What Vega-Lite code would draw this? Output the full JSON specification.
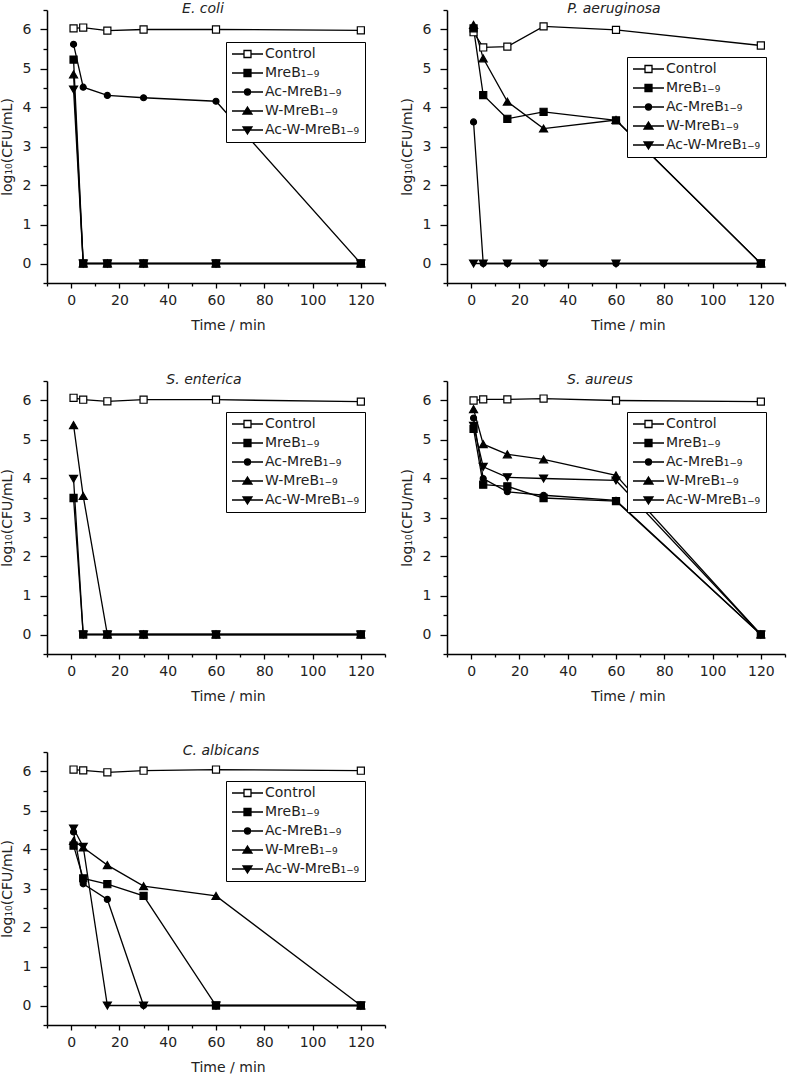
{
  "$schema": "https://vega.github.io/schema/vega-lite/v6.json",
  "padding": {"left": 0, "top": 2, "right": 2, "bottom": 0},
  "config": {
    "font": "DejaVu Sans",
    "view": {"stroke": null},
    "axis": {"domainColor": "black", "domainWidth": 1.5, "tickColor": "black", "tickWidth": 1.3, "labelFontSize": 14, "labelColor": "#222", "titleFontSize": 14, "titleFontWeight": "normal", "titleColor": "#222", "grid": false},
    "title": {"fontSize": 14, "fontStyle": "italic", "fontWeight": "normal", "color": "#222", "offset": -13},
    "legend": {"padding": 5, "strokeColor": "black", "fillColor": "white", "labelFontSize": 14, "labelColor": "#222", "labelOffset": 20, "rowPadding": 5, "symbolSize": 4, "symbolStrokeColor": "black", "symbolStrokeWidth": 1.3, "symbolOpacity": 1}
  },
  "datasets": {
    "d": [
      {"o": "E. coli", "s": "Control", "t": 1, "v": 6.03}, {"o": "E. coli", "s": "Control", "t": 5, "v": 6.05}, {"o": "E. coli", "s": "Control", "t": 15, "v": 5.97}, {"o": "E. coli", "s": "Control", "t": 30, "v": 6.0}, {"o": "E. coli", "s": "Control", "t": 60, "v": 6.0}, {"o": "E. coli", "s": "Control", "t": 120, "v": 5.98},
      {"o": "E. coli", "s": "MreB\u2081\u208b\u2089", "t": 1, "v": 5.23}, {"o": "E. coli", "s": "MreB\u2081\u208b\u2089", "t": 5, "v": 0}, {"o": "E. coli", "s": "MreB\u2081\u208b\u2089", "t": 15, "v": 0}, {"o": "E. coli", "s": "MreB\u2081\u208b\u2089", "t": 30, "v": 0}, {"o": "E. coli", "s": "MreB\u2081\u208b\u2089", "t": 60, "v": 0}, {"o": "E. coli", "s": "MreB\u2081\u208b\u2089", "t": 120, "v": 0},
      {"o": "E. coli", "s": "Ac-MreB\u2081\u208b\u2089", "t": 1, "v": 5.62}, {"o": "E. coli", "s": "Ac-MreB\u2081\u208b\u2089", "t": 5, "v": 4.52}, {"o": "E. coli", "s": "Ac-MreB\u2081\u208b\u2089", "t": 15, "v": 4.31}, {"o": "E. coli", "s": "Ac-MreB\u2081\u208b\u2089", "t": 30, "v": 4.25}, {"o": "E. coli", "s": "Ac-MreB\u2081\u208b\u2089", "t": 60, "v": 4.16}, {"o": "E. coli", "s": "Ac-MreB\u2081\u208b\u2089", "t": 120, "v": 0},
      {"o": "E. coli", "s": "W-MreB\u2081\u208b\u2089", "t": 1, "v": 4.85}, {"o": "E. coli", "s": "W-MreB\u2081\u208b\u2089", "t": 5, "v": 0}, {"o": "E. coli", "s": "W-MreB\u2081\u208b\u2089", "t": 15, "v": 0}, {"o": "E. coli", "s": "W-MreB\u2081\u208b\u2089", "t": 30, "v": 0}, {"o": "E. coli", "s": "W-MreB\u2081\u208b\u2089", "t": 60, "v": 0}, {"o": "E. coli", "s": "W-MreB\u2081\u208b\u2089", "t": 120, "v": 0},
      {"o": "E. coli", "s": "Ac-W-MreB\u2081\u208b\u2089", "t": 1, "v": 4.46}, {"o": "E. coli", "s": "Ac-W-MreB\u2081\u208b\u2089", "t": 5, "v": 0}, {"o": "E. coli", "s": "Ac-W-MreB\u2081\u208b\u2089", "t": 15, "v": 0}, {"o": "E. coli", "s": "Ac-W-MreB\u2081\u208b\u2089", "t": 30, "v": 0}, {"o": "E. coli", "s": "Ac-W-MreB\u2081\u208b\u2089", "t": 60, "v": 0}, {"o": "E. coli", "s": "Ac-W-MreB\u2081\u208b\u2089", "t": 120, "v": 0},
      {"o": "P. aeruginosa", "s": "Control", "t": 1, "v": 5.93}, {"o": "P. aeruginosa", "s": "Control", "t": 5, "v": 5.54}, {"o": "P. aeruginosa", "s": "Control", "t": 15, "v": 5.56}, {"o": "P. aeruginosa", "s": "Control", "t": 30, "v": 6.08}, {"o": "P. aeruginosa", "s": "Control", "t": 60, "v": 5.99}, {"o": "P. aeruginosa", "s": "Control", "t": 120, "v": 5.59},
      {"o": "P. aeruginosa", "s": "MreB\u2081\u208b\u2089", "t": 1, "v": 6.03}, {"o": "P. aeruginosa", "s": "MreB\u2081\u208b\u2089", "t": 5, "v": 4.32}, {"o": "P. aeruginosa", "s": "MreB\u2081\u208b\u2089", "t": 15, "v": 3.71}, {"o": "P. aeruginosa", "s": "MreB\u2081\u208b\u2089", "t": 30, "v": 3.89}, {"o": "P. aeruginosa", "s": "MreB\u2081\u208b\u2089", "t": 60, "v": 3.67}, {"o": "P. aeruginosa", "s": "MreB\u2081\u208b\u2089", "t": 120, "v": 0},
      {"o": "P. aeruginosa", "s": "Ac-MreB\u2081\u208b\u2089", "t": 1, "v": 3.63}, {"o": "P. aeruginosa", "s": "Ac-MreB\u2081\u208b\u2089", "t": 5, "v": 0}, {"o": "P. aeruginosa", "s": "Ac-MreB\u2081\u208b\u2089", "t": 15, "v": 0}, {"o": "P. aeruginosa", "s": "Ac-MreB\u2081\u208b\u2089", "t": 30, "v": 0}, {"o": "P. aeruginosa", "s": "Ac-MreB\u2081\u208b\u2089", "t": 60, "v": 0}, {"o": "P. aeruginosa", "s": "Ac-MreB\u2081\u208b\u2089", "t": 120, "v": 0},
      {"o": "P. aeruginosa", "s": "W-MreB\u2081\u208b\u2089", "t": 1, "v": 6.12}, {"o": "P. aeruginosa", "s": "W-MreB\u2081\u208b\u2089", "t": 5, "v": 5.26}, {"o": "P. aeruginosa", "s": "W-MreB\u2081\u208b\u2089", "t": 15, "v": 4.15}, {"o": "P. aeruginosa", "s": "W-MreB\u2081\u208b\u2089", "t": 30, "v": 3.46}, {"o": "P. aeruginosa", "s": "W-MreB\u2081\u208b\u2089", "t": 60, "v": 3.68}, {"o": "P. aeruginosa", "s": "W-MreB\u2081\u208b\u2089", "t": 120, "v": 0},
      {"o": "P. aeruginosa", "s": "Ac-W-MreB\u2081\u208b\u2089", "t": 1, "v": 0}, {"o": "P. aeruginosa", "s": "Ac-W-MreB\u2081\u208b\u2089", "t": 5, "v": 0}, {"o": "P. aeruginosa", "s": "Ac-W-MreB\u2081\u208b\u2089", "t": 15, "v": 0}, {"o": "P. aeruginosa", "s": "Ac-W-MreB\u2081\u208b\u2089", "t": 30, "v": 0}, {"o": "P. aeruginosa", "s": "Ac-W-MreB\u2081\u208b\u2089", "t": 60, "v": 0}, {"o": "P. aeruginosa", "s": "Ac-W-MreB\u2081\u208b\u2089", "t": 120, "v": 0},
      {"o": "S. enterica", "s": "Control", "t": 1, "v": 6.07}, {"o": "S. enterica", "s": "Control", "t": 5, "v": 6.02}, {"o": "S. enterica", "s": "Control", "t": 15, "v": 5.98}, {"o": "S. enterica", "s": "Control", "t": 30, "v": 6.02}, {"o": "S. enterica", "s": "Control", "t": 60, "v": 6.02}, {"o": "S. enterica", "s": "Control", "t": 120, "v": 5.97},
      {"o": "S. enterica", "s": "MreB\u2081\u208b\u2089", "t": 1, "v": 3.5}, {"o": "S. enterica", "s": "MreB\u2081\u208b\u2089", "t": 5, "v": 0}, {"o": "S. enterica", "s": "MreB\u2081\u208b\u2089", "t": 15, "v": 0}, {"o": "S. enterica", "s": "MreB\u2081\u208b\u2089", "t": 30, "v": 0}, {"o": "S. enterica", "s": "MreB\u2081\u208b\u2089", "t": 60, "v": 0}, {"o": "S. enterica", "s": "MreB\u2081\u208b\u2089", "t": 120, "v": 0},
      {"o": "S. enterica", "s": "Ac-MreB\u2081\u208b\u2089", "t": 5, "v": 0}, {"o": "S. enterica", "s": "Ac-MreB\u2081\u208b\u2089", "t": 15, "v": 0}, {"o": "S. enterica", "s": "Ac-MreB\u2081\u208b\u2089", "t": 30, "v": 0}, {"o": "S. enterica", "s": "Ac-MreB\u2081\u208b\u2089", "t": 60, "v": 0}, {"o": "S. enterica", "s": "Ac-MreB\u2081\u208b\u2089", "t": 120, "v": 0},
      {"o": "S. enterica", "s": "W-MreB\u2081\u208b\u2089", "t": 1, "v": 5.37}, {"o": "S. enterica", "s": "W-MreB\u2081\u208b\u2089", "t": 5, "v": 3.55}, {"o": "S. enterica", "s": "W-MreB\u2081\u208b\u2089", "t": 15, "v": 0}, {"o": "S. enterica", "s": "W-MreB\u2081\u208b\u2089", "t": 30, "v": 0}, {"o": "S. enterica", "s": "W-MreB\u2081\u208b\u2089", "t": 60, "v": 0}, {"o": "S. enterica", "s": "W-MreB\u2081\u208b\u2089", "t": 120, "v": 0},
      {"o": "S. enterica", "s": "Ac-W-MreB\u2081\u208b\u2089", "t": 1, "v": 3.99}, {"o": "S. enterica", "s": "Ac-W-MreB\u2081\u208b\u2089", "t": 5, "v": 0}, {"o": "S. enterica", "s": "Ac-W-MreB\u2081\u208b\u2089", "t": 15, "v": 0}, {"o": "S. enterica", "s": "Ac-W-MreB\u2081\u208b\u2089", "t": 30, "v": 0}, {"o": "S. enterica", "s": "Ac-W-MreB\u2081\u208b\u2089", "t": 60, "v": 0}, {"o": "S. enterica", "s": "Ac-W-MreB\u2081\u208b\u2089", "t": 120, "v": 0},
      {"o": "S. aureus", "s": "Control", "t": 1, "v": 6.0}, {"o": "S. aureus", "s": "Control", "t": 5, "v": 6.03}, {"o": "S. aureus", "s": "Control", "t": 15, "v": 6.03}, {"o": "S. aureus", "s": "Control", "t": 30, "v": 6.05}, {"o": "S. aureus", "s": "Control", "t": 60, "v": 6.0}, {"o": "S. aureus", "s": "Control", "t": 120, "v": 5.97},
      {"o": "S. aureus", "s": "MreB\u2081\u208b\u2089", "t": 1, "v": 5.27}, {"o": "S. aureus", "s": "MreB\u2081\u208b\u2089", "t": 5, "v": 3.84}, {"o": "S. aureus", "s": "MreB\u2081\u208b\u2089", "t": 15, "v": 3.8}, {"o": "S. aureus", "s": "MreB\u2081\u208b\u2089", "t": 30, "v": 3.5}, {"o": "S. aureus", "s": "MreB\u2081\u208b\u2089", "t": 60, "v": 3.42}, {"o": "S. aureus", "s": "MreB\u2081\u208b\u2089", "t": 120, "v": 0},
      {"o": "S. aureus", "s": "Ac-MreB\u2081\u208b\u2089", "t": 1, "v": 5.55}, {"o": "S. aureus", "s": "Ac-MreB\u2081\u208b\u2089", "t": 5, "v": 4.0}, {"o": "S. aureus", "s": "Ac-MreB\u2081\u208b\u2089", "t": 15, "v": 3.66}, {"o": "S. aureus", "s": "Ac-MreB\u2081\u208b\u2089", "t": 30, "v": 3.57}, {"o": "S. aureus", "s": "Ac-MreB\u2081\u208b\u2089", "t": 60, "v": 3.44}, {"o": "S. aureus", "s": "Ac-MreB\u2081\u208b\u2089", "t": 120, "v": 0},
      {"o": "S. aureus", "s": "W-MreB\u2081\u208b\u2089", "t": 1, "v": 5.78}, {"o": "S. aureus", "s": "W-MreB\u2081\u208b\u2089", "t": 5, "v": 4.88}, {"o": "S. aureus", "s": "W-MreB\u2081\u208b\u2089", "t": 15, "v": 4.62}, {"o": "S. aureus", "s": "W-MreB\u2081\u208b\u2089", "t": 30, "v": 4.49}, {"o": "S. aureus", "s": "W-MreB\u2081\u208b\u2089", "t": 60, "v": 4.08}, {"o": "S. aureus", "s": "W-MreB\u2081\u208b\u2089", "t": 120, "v": 0},
      {"o": "S. aureus", "s": "Ac-W-MreB\u2081\u208b\u2089", "t": 1, "v": 5.35}, {"o": "S. aureus", "s": "Ac-W-MreB\u2081\u208b\u2089", "t": 5, "v": 4.3}, {"o": "S. aureus", "s": "Ac-W-MreB\u2081\u208b\u2089", "t": 15, "v": 4.03}, {"o": "S. aureus", "s": "Ac-W-MreB\u2081\u208b\u2089", "t": 30, "v": 4.0}, {"o": "S. aureus", "s": "Ac-W-MreB\u2081\u208b\u2089", "t": 60, "v": 3.95}, {"o": "S. aureus", "s": "Ac-W-MreB\u2081\u208b\u2089", "t": 120, "v": 0},
      {"o": "C. albicans", "s": "Control", "t": 1, "v": 6.05}, {"o": "C. albicans", "s": "Control", "t": 5, "v": 6.03}, {"o": "C. albicans", "s": "Control", "t": 15, "v": 5.98}, {"o": "C. albicans", "s": "Control", "t": 30, "v": 6.02}, {"o": "C. albicans", "s": "Control", "t": 60, "v": 6.05}, {"o": "C. albicans", "s": "Control", "t": 120, "v": 6.02},
      {"o": "C. albicans", "s": "MreB\u2081\u208b\u2089", "t": 1, "v": 4.1}, {"o": "C. albicans", "s": "MreB\u2081\u208b\u2089", "t": 5, "v": 3.26}, {"o": "C. albicans", "s": "MreB\u2081\u208b\u2089", "t": 15, "v": 3.11}, {"o": "C. albicans", "s": "MreB\u2081\u208b\u2089", "t": 30, "v": 2.81}, {"o": "C. albicans", "s": "MreB\u2081\u208b\u2089", "t": 60, "v": 0}, {"o": "C. albicans", "s": "MreB\u2081\u208b\u2089", "t": 120, "v": 0},
      {"o": "C. albicans", "s": "Ac-MreB\u2081\u208b\u2089", "t": 1, "v": 4.45}, {"o": "C. albicans", "s": "Ac-MreB\u2081\u208b\u2089", "t": 5, "v": 3.12}, {"o": "C. albicans", "s": "Ac-MreB\u2081\u208b\u2089", "t": 15, "v": 2.72}, {"o": "C. albicans", "s": "Ac-MreB\u2081\u208b\u2089", "t": 30, "v": 0}, {"o": "C. albicans", "s": "Ac-MreB\u2081\u208b\u2089", "t": 60, "v": 0}, {"o": "C. albicans", "s": "Ac-MreB\u2081\u208b\u2089", "t": 120, "v": 0},
      {"o": "C. albicans", "s": "W-MreB\u2081\u208b\u2089", "t": 1, "v": 4.22}, {"o": "C. albicans", "s": "W-MreB\u2081\u208b\u2089", "t": 5, "v": 4.05}, {"o": "C. albicans", "s": "W-MreB\u2081\u208b\u2089", "t": 15, "v": 3.6}, {"o": "C. albicans", "s": "W-MreB\u2081\u208b\u2089", "t": 30, "v": 3.06}, {"o": "C. albicans", "s": "W-MreB\u2081\u208b\u2089", "t": 60, "v": 2.81}, {"o": "C. albicans", "s": "W-MreB\u2081\u208b\u2089", "t": 120, "v": 0},
      {"o": "C. albicans", "s": "Ac-W-MreB\u2081\u208b\u2089", "t": 1, "v": 4.54}, {"o": "C. albicans", "s": "Ac-W-MreB\u2081\u208b\u2089", "t": 5, "v": 4.07}, {"o": "C. albicans", "s": "Ac-W-MreB\u2081\u208b\u2089", "t": 15, "v": 0}, {"o": "C. albicans", "s": "Ac-W-MreB\u2081\u208b\u2089", "t": 30, "v": 0}, {"o": "C. albicans", "s": "Ac-W-MreB\u2081\u208b\u2089", "t": 60, "v": 0}, {"o": "C. albicans", "s": "Ac-W-MreB\u2081\u208b\u2089", "t": 120, "v": 0}
    ]
  },
  "columns": 2,
  "spacing": {"row": 98, "column": 62},
  "bounds": "flush",
  "resolve": {"scale": {"shape": "independent", "fill": "independent", "size": "independent"}},
  "concat": [
    {
      "title": {"text": "E. coli", "dx": -13},
      "width": 338, "height": 273,
      "data": {"name": "d"},
      "transform": [{"filter": "datum.o === 'E. coli'"}],
      "encoding": {
        "x": {"field": "t", "type": "quantitative", "scale": {"domain": [-10, 130], "nice": false, "zero": false}, "axis": {"title": "Time / min", "values": [-10, 0, 10, 20, 30, 40, 50, 60, 70, 80, 90, 100, 110, 120, 130], "labelExpr": "datum.value % 20 === 0 ? format(datum.value, 'd') : ''", "tickSize": {"condition": {"test": "datum.value % 20 !== 0", "value": 3}, "value": 5}, "labelPadding": 5, "titlePadding": 11, "labelOverlap": false, "labelFlush": false, "titleX": 181}},
        "y": {"field": "v", "type": "quantitative", "scale": {"domain": [-0.5, 6.5], "nice": false, "zero": false}, "axis": {"title": "log\u2081\u2080(CFU/mL)", "values": [-0.5, 0, 0.5, 1, 1.5, 2, 2.5, 3, 3.5, 4, 4.5, 5, 5.5, 6, 6.5], "labelExpr": "datum.value % 1 === 0 ? format(datum.value, 'd') : ''", "tickSize": {"condition": {"test": "datum.value % 1 !== 0", "value": 4}, "value": 7}, "labelPadding": 9, "titlePadding": 8, "labelOverlap": false, "labelFlush": false}}
      },
      "resolve": {"scale": {"shape": "independent", "fill": "independent", "size": "independent"}},
      "layer": [
        {"mark": {"type": "line", "color": "black", "strokeWidth": 1.3}, "encoding": {"detail": {"field": "s"}}},
        {"mark": {"type": "point", "color": "black", "stroke": "black", "strokeWidth": 1.2, "opacity": 1},
         "encoding": {
           "fill": {"field": "s", "type": "nominal", "scale": {"domain": ["Control", "MreB\u2081\u208b\u2089", "Ac-MreB\u2081\u208b\u2089", "W-MreB\u2081\u208b\u2089", "Ac-W-MreB\u2081\u208b\u2089"], "range": ["white", "black", "black", "black", "black"]}, "legend": null},
           "shape": {"field": "s", "type": "nominal", "scale": {"domain": ["Control", "MreB\u2081\u208b\u2089", "Ac-MreB\u2081\u208b\u2089", "W-MreB\u2081\u208b\u2089", "Ac-W-MreB\u2081\u208b\u2089"], "range": ["square", "square", "circle", "triangle-up", "triangle-down"]}, "legend": null},
           "size": {"field": "s", "type": "nominal", "scale": {"type": "ordinal", "domain": ["Control", "MreB\u2081\u208b\u2089", "Ac-MreB\u2081\u208b\u2089", "W-MreB\u2081\u208b\u2089", "Ac-W-MreB\u2081\u208b\u2089"], "range": [50, 50, 36, 64, 64]}, "legend": null}
         }},
        {"transform": [{"filter": "datum.v > 100"}],
         "mark": {"type": "point", "color": "black", "stroke": "black", "strokeWidth": 1.3, "opacity": 1},
         "encoding": {
           "shape": {"field": "s", "type": "nominal", "scale": {"domain": ["Control", "MreB\u2081\u208b\u2089", "Ac-MreB\u2081\u208b\u2089", "W-MreB\u2081\u208b\u2089", "Ac-W-MreB\u2081\u208b\u2089"], "range": ["M-6,0H6M13,0H25M6,-3.5H13V3.5H6Z", "M-6,0H25M6,-3.5H13V3.5H6Z", "M-6,0H25M12.5,0A3,3,0,1,1,6.5,0A3,3,0,1,1,12.5,0Z", "M-6,0H25M9.5,-4L14,3L5,3Z", "M-6,0H25M9.5,4L14,-3L5,-3Z"]},
             "legend": {"title": null, "orient": "none", "legendX": 179, "legendY": 32, "encode": {"legend": {"strokeWidth": {"value": 1.5}}}}},
           "fill": {"field": "s", "type": "nominal", "scale": {"domain": ["Control", "MreB\u2081\u208b\u2089", "Ac-MreB\u2081\u208b\u2089", "W-MreB\u2081\u208b\u2089", "Ac-W-MreB\u2081\u208b\u2089"], "range": ["white", "black", "black", "black", "black"]},
             "legend": {"title": null, "orient": "none", "legendX": 179, "legendY": 32, "encode": {"legend": {"strokeWidth": {"value": 1.5}}}}}
         }}
      ]
    },
    {
      "title": {"text": "P. aeruginosa", "dx": -2},
      "width": 338, "height": 273,
      "data": {"name": "d"},
      "transform": [{"filter": "datum.o === 'P. aeruginosa'"}],
      "encoding": {
        "x": {"field": "t", "type": "quantitative", "scale": {"domain": [-10, 130], "nice": false, "zero": false}, "axis": {"title": "Time / min", "values": [-10, 0, 10, 20, 30, 40, 50, 60, 70, 80, 90, 100, 110, 120, 130], "labelExpr": "datum.value % 20 === 0 ? format(datum.value, 'd') : ''", "tickSize": {"condition": {"test": "datum.value % 20 !== 0", "value": 3}, "value": 5}, "labelPadding": 5, "titlePadding": 11, "labelOverlap": false, "labelFlush": false, "titleX": 181}},
        "y": {"field": "v", "type": "quantitative", "scale": {"domain": [-0.5, 6.5], "nice": false, "zero": false}, "axis": {"title": "log\u2081\u2080(CFU/mL)", "values": [-0.5, 0, 0.5, 1, 1.5, 2, 2.5, 3, 3.5, 4, 4.5, 5, 5.5, 6, 6.5], "labelExpr": "datum.value % 1 === 0 ? format(datum.value, 'd') : ''", "tickSize": {"condition": {"test": "datum.value % 1 !== 0", "value": 4}, "value": 7}, "labelPadding": 9, "titlePadding": 8, "labelOverlap": false, "labelFlush": false}}
      },
      "resolve": {"scale": {"shape": "independent", "fill": "independent", "size": "independent"}},
      "layer": [
        {"mark": {"type": "line", "color": "black", "strokeWidth": 1.3}, "encoding": {"detail": {"field": "s"}}},
        {"mark": {"type": "point", "color": "black", "stroke": "black", "strokeWidth": 1.2, "opacity": 1},
         "encoding": {
           "fill": {"field": "s", "type": "nominal", "scale": {"domain": ["Control", "MreB\u2081\u208b\u2089", "Ac-MreB\u2081\u208b\u2089", "W-MreB\u2081\u208b\u2089", "Ac-W-MreB\u2081\u208b\u2089"], "range": ["white", "black", "black", "black", "black"]}, "legend": null},
           "shape": {"field": "s", "type": "nominal", "scale": {"domain": ["Control", "MreB\u2081\u208b\u2089", "Ac-MreB\u2081\u208b\u2089", "W-MreB\u2081\u208b\u2089", "Ac-W-MreB\u2081\u208b\u2089"], "range": ["square", "square", "circle", "triangle-up", "triangle-down"]}, "legend": null},
           "size": {"field": "s", "type": "nominal", "scale": {"type": "ordinal", "domain": ["Control", "MreB\u2081\u208b\u2089", "Ac-MreB\u2081\u208b\u2089", "W-MreB\u2081\u208b\u2089", "Ac-W-MreB\u2081\u208b\u2089"], "range": [50, 50, 36, 64, 64]}, "legend": null}
         }},
        {"transform": [{"filter": "datum.v > 100"}],
         "mark": {"type": "point", "color": "black", "stroke": "black", "strokeWidth": 1.3, "opacity": 1},
         "encoding": {
           "shape": {"field": "s", "type": "nominal", "scale": {"domain": ["Control", "MreB\u2081\u208b\u2089", "Ac-MreB\u2081\u208b\u2089", "W-MreB\u2081\u208b\u2089", "Ac-W-MreB\u2081\u208b\u2089"], "range": ["M-6,0H6M13,0H25M6,-3.5H13V3.5H6Z", "M-6,0H25M6,-3.5H13V3.5H6Z", "M-6,0H25M12.5,0A3,3,0,1,1,6.5,0A3,3,0,1,1,12.5,0Z", "M-6,0H25M9.5,-4L14,3L5,3Z", "M-6,0H25M9.5,4L14,-3L5,-3Z"]},
             "legend": {"title": null, "orient": "none", "legendX": 180, "legendY": 47, "encode": {"legend": {"strokeWidth": {"value": 1.5}}}}},
           "fill": {"field": "s", "type": "nominal", "scale": {"domain": ["Control", "MreB\u2081\u208b\u2089", "Ac-MreB\u2081\u208b\u2089", "W-MreB\u2081\u208b\u2089", "Ac-W-MreB\u2081\u208b\u2089"], "range": ["white", "black", "black", "black", "black"]},
             "legend": {"title": null, "orient": "none", "legendX": 180, "legendY": 47, "encode": {"legend": {"strokeWidth": {"value": 1.5}}}}}
         }}
      ]
    },
    {
      "title": {"text": "S. enterica", "dx": -12},
      "width": 338, "height": 273,
      "data": {"name": "d"},
      "transform": [{"filter": "datum.o === 'S. enterica'"}],
      "encoding": {
        "x": {"field": "t", "type": "quantitative", "scale": {"domain": [-10, 130], "nice": false, "zero": false}, "axis": {"title": "Time / min", "values": [-10, 0, 10, 20, 30, 40, 50, 60, 70, 80, 90, 100, 110, 120, 130], "labelExpr": "datum.value % 20 === 0 ? format(datum.value, 'd') : ''", "tickSize": {"condition": {"test": "datum.value % 20 !== 0", "value": 3}, "value": 5}, "labelPadding": 5, "titlePadding": 11, "labelOverlap": false, "labelFlush": false, "titleX": 181}},
        "y": {"field": "v", "type": "quantitative", "scale": {"domain": [-0.5, 6.5], "nice": false, "zero": false}, "axis": {"title": "log\u2081\u2080(CFU/mL)", "values": [-0.5, 0, 0.5, 1, 1.5, 2, 2.5, 3, 3.5, 4, 4.5, 5, 5.5, 6, 6.5], "labelExpr": "datum.value % 1 === 0 ? format(datum.value, 'd') : ''", "tickSize": {"condition": {"test": "datum.value % 1 !== 0", "value": 4}, "value": 7}, "labelPadding": 9, "titlePadding": 8, "labelOverlap": false, "labelFlush": false}}
      },
      "resolve": {"scale": {"shape": "independent", "fill": "independent", "size": "independent"}},
      "layer": [
        {"mark": {"type": "line", "color": "black", "strokeWidth": 1.3}, "encoding": {"detail": {"field": "s"}}},
        {"mark": {"type": "point", "color": "black", "stroke": "black", "strokeWidth": 1.2, "opacity": 1},
         "encoding": {
           "fill": {"field": "s", "type": "nominal", "scale": {"domain": ["Control", "MreB\u2081\u208b\u2089", "Ac-MreB\u2081\u208b\u2089", "W-MreB\u2081\u208b\u2089", "Ac-W-MreB\u2081\u208b\u2089"], "range": ["white", "black", "black", "black", "black"]}, "legend": null},
           "shape": {"field": "s", "type": "nominal", "scale": {"domain": ["Control", "MreB\u2081\u208b\u2089", "Ac-MreB\u2081\u208b\u2089", "W-MreB\u2081\u208b\u2089", "Ac-W-MreB\u2081\u208b\u2089"], "range": ["square", "square", "circle", "triangle-up", "triangle-down"]}, "legend": null},
           "size": {"field": "s", "type": "nominal", "scale": {"type": "ordinal", "domain": ["Control", "MreB\u2081\u208b\u2089", "Ac-MreB\u2081\u208b\u2089", "W-MreB\u2081\u208b\u2089", "Ac-W-MreB\u2081\u208b\u2089"], "range": [50, 50, 36, 64, 64]}, "legend": null}
         }},
        {"transform": [{"filter": "datum.v > 100"}],
         "mark": {"type": "point", "color": "black", "stroke": "black", "strokeWidth": 1.3, "opacity": 1},
         "encoding": {
           "shape": {"field": "s", "type": "nominal", "scale": {"domain": ["Control", "MreB\u2081\u208b\u2089", "Ac-MreB\u2081\u208b\u2089", "W-MreB\u2081\u208b\u2089", "Ac-W-MreB\u2081\u208b\u2089"], "range": ["M-6,0H6M13,0H25M6,-3.5H13V3.5H6Z", "M-6,0H25M6,-3.5H13V3.5H6Z", "M-6,0H25M12.5,0A3,3,0,1,1,6.5,0A3,3,0,1,1,12.5,0Z", "M-6,0H25M9.5,-4L14,3L5,3Z", "M-6,0H25M9.5,4L14,-3L5,-3Z"]},
             "legend": {"title": null, "orient": "none", "legendX": 179, "legendY": 31, "encode": {"legend": {"strokeWidth": {"value": 1.5}}}}},
           "fill": {"field": "s", "type": "nominal", "scale": {"domain": ["Control", "MreB\u2081\u208b\u2089", "Ac-MreB\u2081\u208b\u2089", "W-MreB\u2081\u208b\u2089", "Ac-W-MreB\u2081\u208b\u2089"], "range": ["white", "black", "black", "black", "black"]},
             "legend": {"title": null, "orient": "none", "legendX": 179, "legendY": 31, "encode": {"legend": {"strokeWidth": {"value": 1.5}}}}}
         }}
      ]
    },
    {
      "title": {"text": "S. aureus", "dx": -16},
      "width": 338, "height": 273,
      "data": {"name": "d"},
      "transform": [{"filter": "datum.o === 'S. aureus'"}],
      "encoding": {
        "x": {"field": "t", "type": "quantitative", "scale": {"domain": [-10, 130], "nice": false, "zero": false}, "axis": {"title": "Time / min", "values": [-10, 0, 10, 20, 30, 40, 50, 60, 70, 80, 90, 100, 110, 120, 130], "labelExpr": "datum.value % 20 === 0 ? format(datum.value, 'd') : ''", "tickSize": {"condition": {"test": "datum.value % 20 !== 0", "value": 3}, "value": 5}, "labelPadding": 5, "titlePadding": 11, "labelOverlap": false, "labelFlush": false, "titleX": 181}},
        "y": {"field": "v", "type": "quantitative", "scale": {"domain": [-0.5, 6.5], "nice": false, "zero": false}, "axis": {"title": "log\u2081\u2080(CFU/mL)", "values": [-0.5, 0, 0.5, 1, 1.5, 2, 2.5, 3, 3.5, 4, 4.5, 5, 5.5, 6, 6.5], "labelExpr": "datum.value % 1 === 0 ? format(datum.value, 'd') : ''", "tickSize": {"condition": {"test": "datum.value % 1 !== 0", "value": 4}, "value": 7}, "labelPadding": 9, "titlePadding": 8, "labelOverlap": false, "labelFlush": false}}
      },
      "resolve": {"scale": {"shape": "independent", "fill": "independent", "size": "independent"}},
      "layer": [
        {"mark": {"type": "line", "color": "black", "strokeWidth": 1.3}, "encoding": {"detail": {"field": "s"}}},
        {"mark": {"type": "point", "color": "black", "stroke": "black", "strokeWidth": 1.2, "opacity": 1},
         "encoding": {
           "fill": {"field": "s", "type": "nominal", "scale": {"domain": ["Control", "MreB\u2081\u208b\u2089", "Ac-MreB\u2081\u208b\u2089", "W-MreB\u2081\u208b\u2089", "Ac-W-MreB\u2081\u208b\u2089"], "range": ["white", "black", "black", "black", "black"]}, "legend": null},
           "shape": {"field": "s", "type": "nominal", "scale": {"domain": ["Control", "MreB\u2081\u208b\u2089", "Ac-MreB\u2081\u208b\u2089", "W-MreB\u2081\u208b\u2089", "Ac-W-MreB\u2081\u208b\u2089"], "range": ["square", "square", "circle", "triangle-up", "triangle-down"]}, "legend": null},
           "size": {"field": "s", "type": "nominal", "scale": {"type": "ordinal", "domain": ["Control", "MreB\u2081\u208b\u2089", "Ac-MreB\u2081\u208b\u2089", "W-MreB\u2081\u208b\u2089", "Ac-W-MreB\u2081\u208b\u2089"], "range": [50, 50, 36, 64, 64]}, "legend": null}
         }},
        {"transform": [{"filter": "datum.v > 100"}],
         "mark": {"type": "point", "color": "black", "stroke": "black", "strokeWidth": 1.3, "opacity": 1},
         "encoding": {
           "shape": {"field": "s", "type": "nominal", "scale": {"domain": ["Control", "MreB\u2081\u208b\u2089", "Ac-MreB\u2081\u208b\u2089", "W-MreB\u2081\u208b\u2089", "Ac-W-MreB\u2081\u208b\u2089"], "range": ["M-6,0H6M13,0H25M6,-3.5H13V3.5H6Z", "M-6,0H25M6,-3.5H13V3.5H6Z", "M-6,0H25M12.5,0A3,3,0,1,1,6.5,0A3,3,0,1,1,12.5,0Z", "M-6,0H25M9.5,-4L14,3L5,3Z", "M-6,0H25M9.5,4L14,-3L5,-3Z"]},
             "legend": {"title": null, "orient": "none", "legendX": 180, "legendY": 31, "encode": {"legend": {"strokeWidth": {"value": 1.5}}}}},
           "fill": {"field": "s", "type": "nominal", "scale": {"domain": ["Control", "MreB\u2081\u208b\u2089", "Ac-MreB\u2081\u208b\u2089", "W-MreB\u2081\u208b\u2089", "Ac-W-MreB\u2081\u208b\u2089"], "range": ["white", "black", "black", "black", "black"]},
             "legend": {"title": null, "orient": "none", "legendX": 180, "legendY": 31, "encode": {"legend": {"strokeWidth": {"value": 1.5}}}}}
         }}
      ]
    },
    {
      "title": {"text": "C. albicans", "dx": 5},
      "width": 338, "height": 273,
      "data": {"name": "d"},
      "transform": [{"filter": "datum.o === 'C. albicans'"}],
      "encoding": {
        "x": {"field": "t", "type": "quantitative", "scale": {"domain": [-10, 130], "nice": false, "zero": false}, "axis": {"title": "Time / min", "values": [-10, 0, 10, 20, 30, 40, 50, 60, 70, 80, 90, 100, 110, 120, 130], "labelExpr": "datum.value % 20 === 0 ? format(datum.value, 'd') : ''", "tickSize": {"condition": {"test": "datum.value % 20 !== 0", "value": 3}, "value": 5}, "labelPadding": 5, "titlePadding": 11, "labelOverlap": false, "labelFlush": false, "titleX": 181}},
        "y": {"field": "v", "type": "quantitative", "scale": {"domain": [-0.5, 6.5], "nice": false, "zero": false}, "axis": {"title": "log\u2081\u2080(CFU/mL)", "values": [-0.5, 0, 0.5, 1, 1.5, 2, 2.5, 3, 3.5, 4, 4.5, 5, 5.5, 6, 6.5], "labelExpr": "datum.value % 1 === 0 ? format(datum.value, 'd') : ''", "tickSize": {"condition": {"test": "datum.value % 1 !== 0", "value": 4}, "value": 7}, "labelPadding": 9, "titlePadding": 8, "labelOverlap": false, "labelFlush": false}}
      },
      "resolve": {"scale": {"shape": "independent", "fill": "independent", "size": "independent"}},
      "layer": [
        {"mark": {"type": "line", "color": "black", "strokeWidth": 1.3}, "encoding": {"detail": {"field": "s"}}},
        {"mark": {"type": "point", "color": "black", "stroke": "black", "strokeWidth": 1.2, "opacity": 1},
         "encoding": {
           "fill": {"field": "s", "type": "nominal", "scale": {"domain": ["Control", "MreB\u2081\u208b\u2089", "Ac-MreB\u2081\u208b\u2089", "W-MreB\u2081\u208b\u2089", "Ac-W-MreB\u2081\u208b\u2089"], "range": ["white", "black", "black", "black", "black"]}, "legend": null},
           "shape": {"field": "s", "type": "nominal", "scale": {"domain": ["Control", "MreB\u2081\u208b\u2089", "Ac-MreB\u2081\u208b\u2089", "W-MreB\u2081\u208b\u2089", "Ac-W-MreB\u2081\u208b\u2089"], "range": ["square", "square", "circle", "triangle-up", "triangle-down"]}, "legend": null},
           "size": {"field": "s", "type": "nominal", "scale": {"type": "ordinal", "domain": ["Control", "MreB\u2081\u208b\u2089", "Ac-MreB\u2081\u208b\u2089", "W-MreB\u2081\u208b\u2089", "Ac-W-MreB\u2081\u208b\u2089"], "range": [50, 50, 36, 64, 64]}, "legend": null}
         }},
        {"transform": [{"filter": "datum.v > 100"}],
         "mark": {"type": "point", "color": "black", "stroke": "black", "strokeWidth": 1.3, "opacity": 1},
         "encoding": {
           "shape": {"field": "s", "type": "nominal", "scale": {"domain": ["Control", "MreB\u2081\u208b\u2089", "Ac-MreB\u2081\u208b\u2089", "W-MreB\u2081\u208b\u2089", "Ac-W-MreB\u2081\u208b\u2089"], "range": ["M-6,0H6M13,0H25M6,-3.5H13V3.5H6Z", "M-6,0H25M6,-3.5H13V3.5H6Z", "M-6,0H25M12.5,0A3,3,0,1,1,6.5,0A3,3,0,1,1,12.5,0Z", "M-6,0H25M9.5,-4L14,3L5,3Z", "M-6,0H25M9.5,4L14,-3L5,-3Z"]},
             "legend": {"title": null, "orient": "none", "legendX": 179, "legendY": 29, "encode": {"legend": {"strokeWidth": {"value": 1.5}}}}},
           "fill": {"field": "s", "type": "nominal", "scale": {"domain": ["Control", "MreB\u2081\u208b\u2089", "Ac-MreB\u2081\u208b\u2089", "W-MreB\u2081\u208b\u2089", "Ac-W-MreB\u2081\u208b\u2089"], "range": ["white", "black", "black", "black", "black"]},
             "legend": {"title": null, "orient": "none", "legendX": 179, "legendY": 29, "encode": {"legend": {"strokeWidth": {"value": 1.5}}}}}
         }}
      ]
    }
  ]
}
